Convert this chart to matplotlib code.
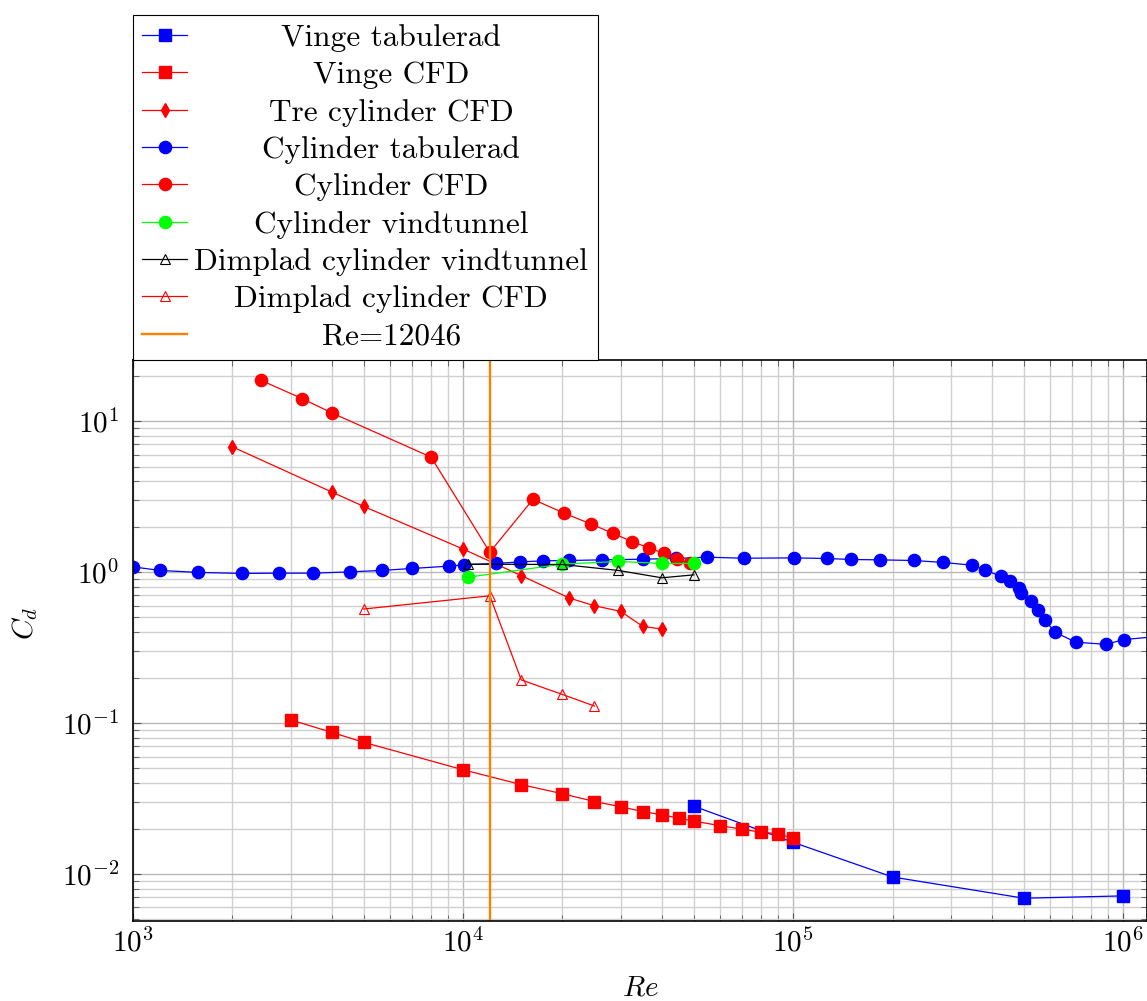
import matplotlib
matplotlib.use("Agg")
import matplotlib.pyplot as plt
from matplotlib.ticker import LogLocator, NullFormatter

plt.rcParams['font.family'] = 'serif'
plt.rcParams['font.serif'] = ['cmr10']
plt.rcParams['mathtext.fontset'] = 'cm'
plt.rcParams['axes.formatter.use_mathtext'] = True

# Vinge tabulerad
vinge_tab_re = [5e4, 1e5, 2e5, 5e5, 1e6]
vinge_tab_cd = [0.0281, 0.0162, 0.00955, 0.00691, 0.00716]

# Vinge CFD
vinge_cfd_re = [3000, 4000, 5000, 10000, 15000, 20000, 25000, 30000, 35000,
                40000, 45000, 50000, 60000, 70000, 80000, 90000, 100000]
vinge_cfd_cd = [0.105, 0.0867, 0.0745, 0.049, 0.0391, 0.034, 0.0302, 0.0279,
                0.0259, 0.0247, 0.0234, 0.0224, 0.0209, 0.0198, 0.0189,
                0.0185, 0.0172]

# Tre cylinder CFD
tre_re = [2000, 4000, 5000, 10000, 15000, 21000, 25000, 30000, 35000, 40000]
tre_cd = [6.75, 3.39, 2.72, 1.42, 0.947, 0.672, 0.598, 0.549, 0.437, 0.419]

# Cylinder tabulerad
cyl_tab_re = [1000, 1207, 1578, 2145, 2767, 3508, 4550, 5676, 7000, 9040,
              10070, 12560, 14890, 17460, 20960, 26400, 35160, 44050, 54970,
              70830, 100400, 126200, 149300, 183500, 231600, 284900, 348200,
              381200, 425500, 453000, 484400, 491200, 524500, 550700, 578300,
              621600, 718000, 885300, 1004000, 2000000]
cyl_tab_cd = [1.082, 1.025, 0.994, 0.979, 0.983, 0.983, 1.003, 1.025, 1.056,
              1.094, 1.116, 1.14, 1.168, 1.186, 1.193, 1.204, 1.217, 1.23,
              1.254, 1.235, 1.241, 1.23, 1.211, 1.204, 1.193, 1.157, 1.111,
              1.034, 0.935, 0.875, 0.786, 0.726, 0.64, 0.558, 0.481, 0.399,
              0.343, 0.332, 0.357, 0.41]

# Cylinder CFD
cyl_cfd_re = [2443, 3255, 4000, 8000, 12046, 16280, 20280, 24380, 28420,
              32460, 36560, 40700, 44570, 48660]
cyl_cfd_cd = [18.6, 14.08, 11.33, 5.77, 1.353, 3.03, 2.449, 2.081, 1.807,
              1.592, 1.445, 1.327, 1.217, 1.14]

# Cylinder vindtunnel
cyl_vind_re = [10360, 20000, 29500, 40000, 50000]
cyl_vind_cd = [0.925, 1.128, 1.175, 1.14, 1.14]

# Dimplad cylinder vindtunnel
dimp_vind_re = [10330, 20000, 29500, 40000, 50000]
dimp_vind_cd = [1.128, 1.122, 1.025, 0.916, 0.958]

# Dimplad cylinder CFD
dimp_cfd_re = [5000, 12046, 15000, 20000, 25000]
dimp_cfd_cd = [0.569, 0.696, 0.193, 0.1545, 0.1295]

re_crit = 12046

fig = plt.figure(figsize=(11.47, 10.01), dpi=100)
ax = fig.add_axes([0.116, 0.0799, 0.884, 0.5605])

blue = (0, 0, 1)
red = (1, 0, 0)
green = (0, 1, 0)
orange = (1, 0.5, 0)
lw = 0.9

ax.plot(vinge_tab_re, vinge_tab_cd, color=blue, lw=lw, marker='s', ms=8.6,
        label='Vinge tabulerad')
ax.plot(vinge_cfd_re, vinge_cfd_cd, color=red, lw=lw, marker='s', ms=8.6,
        label='Vinge CFD')
ax.plot(tre_re, tre_cd, color=red, lw=lw, marker='d', ms=7.5,
        label='Tre cylinder CFD')
ax.plot(cyl_tab_re, cyl_tab_cd, color=blue, lw=lw, marker='o', ms=8.8,
        label='Cylinder tabulerad')
ax.plot(cyl_cfd_re, cyl_cfd_cd, color=red, lw=lw, marker='o', ms=8.8,
        label='Cylinder CFD')
ax.plot(cyl_vind_re, cyl_vind_cd, color=green, lw=lw, marker='o', ms=8.8,
        label='Cylinder vindtunnel')
ax.plot(dimp_vind_re, dimp_vind_cd, color='black', lw=lw, marker='^', ms=7,
        mfc='none', mew=0.8, label='Dimplad cylinder vindtunnel')
ax.plot(dimp_cfd_re, dimp_cfd_cd, color=red, lw=lw, marker='^', ms=7,
        mfc='none', mew=0.8, label='Dimplad cylinder CFD')
ax.axvline(re_crit, color=orange, lw=1.7, label='Re=12046')

ax.set_xscale('log')
ax.set_yscale('log')
ax.set_xlim(1e3, 1.18e6)
ax.set_ylim(0.00488, 25.4)

ax.xaxis.set_minor_locator(LogLocator(base=10, subs=range(2, 10), numticks=20))
ax.yaxis.set_minor_locator(LogLocator(base=10, subs=range(2, 10), numticks=20))
ax.xaxis.set_minor_formatter(NullFormatter())
ax.yaxis.set_minor_formatter(NullFormatter())

ax.grid(True, which='major', color='#b8b8b8', lw=1.0)
ax.grid(True, which='minor', color='#d0d0d0', lw=1.0)
ax.set_axisbelow(True)
ax.tick_params(which='both', direction='in', top=True, right=True,
               labelsize=21, color='#555555')
ax.tick_params(which='major', length=6)
ax.tick_params(which='minor', length=4)
ax.tick_params(axis='x', which='major', pad=5)
ax.tick_params(axis='y', which='major', pad=10)
for s in ax.spines.values():
    s.set_linewidth(1.2)

ax.set_xlabel('$Re$', fontsize=21)
ax.set_ylabel('$C_d$', fontsize=21)
ax.xaxis.set_label_coords(0.5, -0.097)
ax.yaxis.set_label_coords(-0.092, 0.531)

leg = ax.legend(loc='lower left', bbox_to_anchor=(0, 1), borderaxespad=0,
                fancybox=False, edgecolor='black', framealpha=1, fontsize=22.5,
                handlelength=1.44, handletextpad=0.22, labelspacing=0.3,
                borderpad=0.3)
leg.get_frame().set_linewidth(0.8)

# centre legend labels like pgfplots
fig.canvas.draw()
r = fig.canvas.get_renderer()
widths = [t.get_window_extent(r).width for t in leg.get_texts()]
wmax = max(widths)
for t, w in zip(leg.get_texts(), widths):
    t.set_x((wmax - w) / 2)

fig.savefig('out.png', dpi=100)
